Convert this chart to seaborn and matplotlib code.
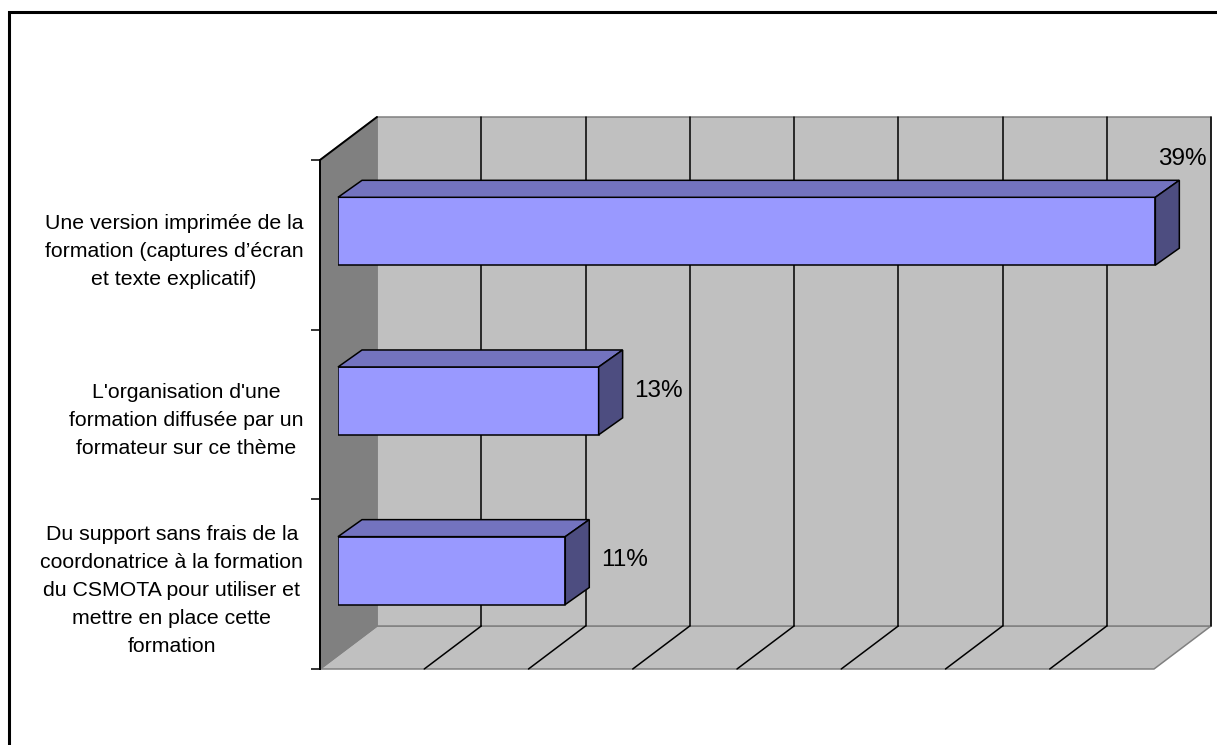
import matplotlib
matplotlib.use("Agg")
import matplotlib.pyplot as plt
from matplotlib.patches import Polygon, Rectangle
import seaborn as sns
import pandas as pd

# ---------------- data ----------------
categories = [
    "Une version imprimée de la\nformation (captures d\u2019écran\net texte explicatif)",
    "L'organisation d'une\nformation diffusée par un\nformateur sur ce thème",
    "Du support sans frais de la\ncoordonatrice à la formation\ndu CSMOTA pour utiliser et\nmettre en place cette\nformation",
]
values = [39.2, 12.5, 10.9]
value_labels = ["39%", "13%", "11%"]
x_ticks = [0, 5, 10, 15, 20, 25, 30, 35, 40]

# ---------------- style ----------------
sns.set_theme(style="white")
plt.rcParams['font.family'] = ['Liberation Sans', 'DejaVu Sans']

FRONT = "#9999FF"
TOP = "#7373BF"
SIDE = "#4D4D80"
WALL = "#C0C0C0"
LEFTWALL = "#808080"
EDGE_GRAY = "#808080"
LW = 1.1

W, H = 1217, 745
fig = plt.figure(figsize=(W / 100, H / 100), dpi=100)

# front plane of the 3-D box (pixel layout)
fx0, fx1, fy0, fy1 = 320, 1154, 160, 669
n = len(categories)
xmax = x_ticks[-1]
px_per_x = (fx1 - fx0) / xmax
px_per_y = (fy1 - fy0) / n

# depth of the box (pixels) -> data units
dx = 57 / px_per_x
dy = -43 / px_per_y
# bars sit between 31.6% and 73.7% of the depth
bar_front_frac = 0.316
bdx = 24 / px_per_x
bdy = -17 / px_per_y

ax = fig.add_axes([fx0 / W, 1 - fy1 / H, (fx1 - fx0) / W, (fy1 - fy0) / H])
ax.set_xlim(0, xmax)
ax.set_ylim(n - 0.5, -0.5)
ax.patch.set_alpha(0)

ylo, yhi = -0.5, n - 0.5

# floor
ax.add_patch(Polygon([(0, yhi), (xmax, yhi), (xmax + dx, yhi + dy), (dx, yhi + dy)],
                     closed=True, facecolor=WALL, edgecolor=EDGE_GRAY, lw=LW, clip_on=False, zorder=1))
# back wall
ax.add_patch(Polygon([(dx, ylo + dy), (xmax + dx, ylo + dy), (xmax + dx, yhi + dy), (dx, yhi + dy)],
                     closed=True, facecolor=WALL, edgecolor=EDGE_GRAY, lw=LW, clip_on=False, zorder=1))
# left wall
ax.add_patch(Polygon([(0, ylo), (dx, ylo + dy), (dx, yhi + dy), (0, yhi)],
                     closed=True, facecolor=LEFTWALL, edgecolor=EDGE_GRAY, lw=LW, clip_on=False, zorder=1.2))
ax.plot([0, dx], [ylo, ylo + dy], color="black", lw=LW + 0.3, clip_on=False, zorder=2)

# gridlines on back wall and floor
for xt in x_ticks[1:]:
    ax.plot([xt + dx, xt + dx], [ylo + dy, yhi + dy], color="black", lw=LW, clip_on=False, zorder=1.5)
for xt in x_ticks[1:-1]:
    ax.plot([xt, xt + dx], [yhi, yhi + dy], color="black", lw=LW, clip_on=False, zorder=1.5)

# axis / ticks
for s in ["top", "right", "bottom"]:
    ax.spines[s].set_visible(False)
ax.spines["left"].set_color("black")
ax.spines["left"].set_linewidth(LW + 0.3)
ax.spines["left"].set_zorder(3)
ax.set_xticks([])
ax.set_yticks([i - 0.5 for i in range(n + 1)])
ax.set_yticklabels([])
ax.tick_params(axis="y", which="major", length=6.5, width=LW, color="black", direction="out", left=True)
ax.set_yticks(range(n), minor=True)
ax.set_yticklabels(categories, minor=True)
ax.tick_params(axis="y", which="minor", length=0, pad=12, labelsize=15.3, labelcolor="black")
for t in ax.get_yticklabels(minor=True):
    t.set_multialignment("center")
    t.set_linespacing(1.6)

# bars on a plane shifted into the depth
ox = bar_front_frac * 57
oy = bar_front_frac * 43
ax2 = fig.add_axes([(fx0 + ox) / W, 1 - (fy1 - oy) / H, (fx1 - fx0) / W, (fy1 - fy0) / H])
df = pd.DataFrame({"cat": categories, "val": values})
sns.barplot(data=df, x="val", y="cat", orient="h", width=0.4, color=FRONT,
            saturation=1, edgecolor="black", linewidth=LW, ax=ax2, zorder=3)
ax2.set_xlim(0, xmax)
ax2.set_ylim(n - 0.5, -0.5)
ax2.axis("off")
ax2.patch.set_alpha(0)

bars = [p for p in ax2.patches]
for p, lab in zip(bars, value_labels):
    x0 = p.get_x()
    v = p.get_width()
    x1 = x0 + v
    yt = p.get_y()
    yb = p.get_y() + p.get_height()
    ax2.add_patch(Polygon([(x0, yt), (x0 + bdx, yt + bdy), (x1 + bdx, yt + bdy), (x1, yt)],
                          closed=True, facecolor=TOP, edgecolor="black", lw=LW, clip_on=False, zorder=3))
    ax2.add_patch(Polygon([(x1, yt), (x1 + bdx, yt + bdy), (x1 + bdx, yb + bdy), (x1, yb)],
                          closed=True, facecolor=SIDE, edgecolor="black", lw=LW, clip_on=False, zorder=3))
    yc = (yt + yb) / 2
    if x1 + 6 <= xmax:
        ax2.text(x1 + 1.7, yc - 0.06, lab, ha="left", va="center", fontsize=17.5,
                 color="black", clip_on=False, zorder=4)
    else:
        ax2.text(x1 + bdx + 1.3, yt + bdy - 0.088, lab, ha="right", va="baseline", fontsize=17.5,
                 color="black", clip_on=False, zorder=4)

# outer chart frame
fig.add_artist(Rectangle((9 / W, -0.2), 1.5, 1 - 12 / H + 0.2, transform=fig.transFigure,
                         fill=False, edgecolor="black", lw=2.2))

fig.savefig("out.png", dpi=100)
